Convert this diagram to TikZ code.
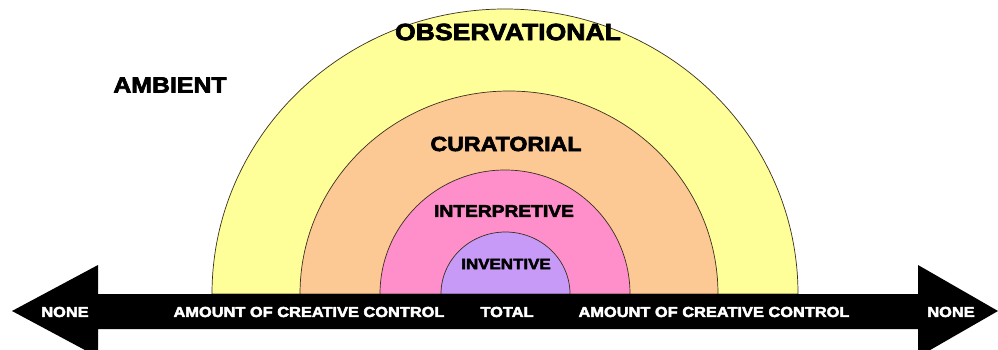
\documentclass[tikz,border=0pt]{standalone}
\usepackage{fontspec}
\newfontfamily\blk{Liberation Sans}[UprightFont={* Bold}, FakeBold=3, FakeStretch=1.13]
\definecolor{cyel}{HTML}{FFFF99}
\definecolor{cora}{HTML}{FCC893}
\definecolor{cpin}{HTML}{FF8FCB}
\definecolor{cpur}{HTML}{C89AF8}
\definecolor{cedge}{HTML}{3A3020}
\tikzset{
  band/.style={draw=cedge, line width=0.7pt},
  lab/.style={inner sep=0pt, text=black},
  arrlab/.style={inner sep=0pt, text=white, font=\blk\fontsize{14.5}{15}\selectfont},
}
\begin{document}
\begin{tikzpicture}[x=1pt,y=-1pt]
\useasboundingbox (0,0) rectangle (998,350);
\clip (0,0) rectangle (998,350);
\fill[white] (0,0) rectangle (998,350);
% semicircles
\filldraw[band, fill=cyel] (212,294) arc[start angle=180, end angle=360, x radius=293, y radius=285] -- cycle;
\filldraw[band, fill=cora] (300,294) arc[start angle=180, end angle=360, x radius=209, y radius=203] -- cycle;
\filldraw[band, fill=cpin] (380,294) arc[start angle=180, end angle=360, x radius=125, y radius=124] -- cycle;
\filldraw[band, fill=cpur] (441,294) arc[start angle=180, end angle=360, x radius=64.5, y radius=62] -- cycle;
% double arrow
\fill[black] (12,311) -- (98,265) -- (98,294) -- (918,294) -- (918,265) -- (998,311)
  -- (918,357) -- (918,329) -- (98,329) -- (98,357) -- cycle;
% labels
\node[lab, font=\blk\fontsize{23.5}{24}\selectfont] (obs) at (508,32) {OBSERVATIONAL};
\node[lab, font=\blk\fontsize{22}{22}\selectfont] (amb) at (170,85) {AMBIENT};
\node[lab, font=\blk\fontsize{20.5}{21}\selectfont] (cur) at (506,144) {CURATORIAL};
\node[lab, font=\blk\fontsize{17}{18}\selectfont] (int) at (504,211) {INTERPRETIVE};
\node[lab, font=\blk\fontsize{15}{16}\selectfont] (inv) at (506,264) {INVENTIVE};
\node[arrlab] (nl) at (65,312) {NONE};
\node[arrlab] (al) at (309,312) {AMOUNT OF CREATIVE CONTROL};
\node[arrlab] (tot) at (507,312) {TOTAL};
\node[arrlab] (ar) at (714,312) {AMOUNT OF CREATIVE CONTROL};
\node[arrlab] (nr) at (951,312) {NONE};
\end{tikzpicture}
\end{document}
